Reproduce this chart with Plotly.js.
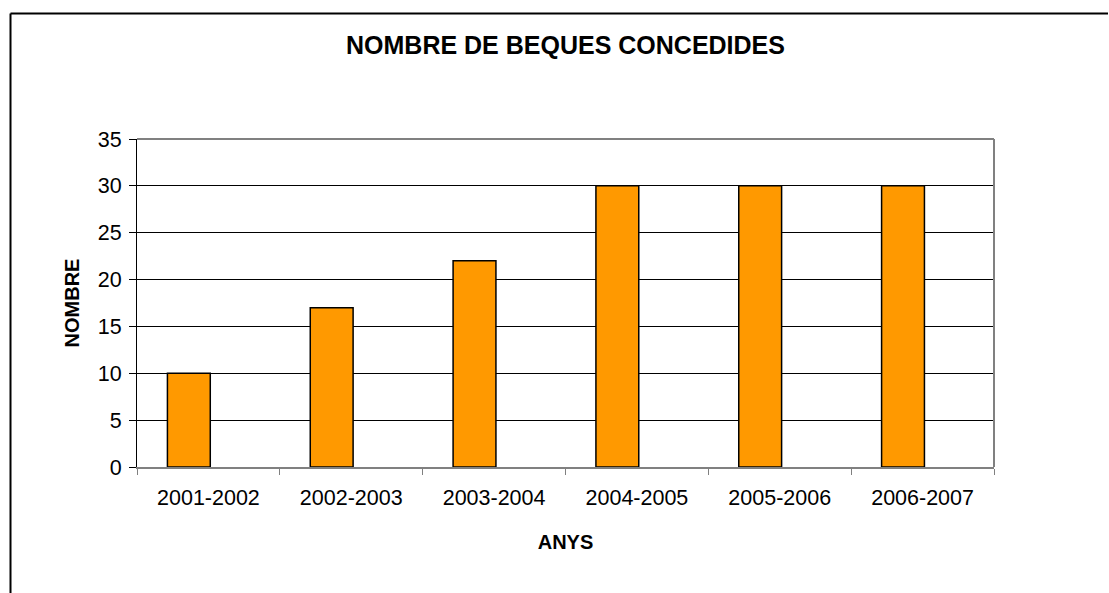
<!DOCTYPE html>
<html>
<head>
<meta charset="utf-8">
<script src="https://cdn.plot.ly/plotly-3.0.1.min.js"></script>
<style>
html,body{margin:0;padding:0;background:#fff;}
#chart{width:1109px;height:593px;}
</style>
</head>
<body>
<div id="chart"></div>
<script>
const categories = ['2001-2002','2002-2003','2003-2004','2004-2005','2005-2006','2006-2007'];
const beques = [10, 17, 22, 30, 30, 30];
const chartTitle = 'NOMBRE DE BEQUES CONCEDIDES';
const xTitle = 'ANYS';
const yTitle = 'NOMBRE';

const FONT = '"Liberation Sans", Arial, sans-serif';
const L = 137, R = 115, T = 139, B = 126, W = 1109, H = 593;
const pw = W - L - R, ph = H - T - B;
const px = v => (v - L) / pw;
const py = v => (H - B - v) / ph;

const trace = {
  type: 'bar',
  x: categories,
  y: beques,
  width: 0.3,
  offset: -0.287,
  marker: {color: '#FF9900', line: {color: '#000000', width: 1.5}},
  hoverinfo: 'x+y'
};

const layout = {
  width: W, height: H,
  margin: {l: L, r: R, t: T, b: B, pad: 0},
  paper_bgcolor: '#ffffff',
  plot_bgcolor: '#ffffff',
  showlegend: false,
  font: {family: FONT, color: '#000000'},
  title: {
    text: chartTitle,
    font: {family: FONT, size: 25, color: '#000000', weight: 'bold'},
    xref: 'paper', x: 0.5, xanchor: 'center',
    yref: 'container', y: 1 - 45/593, yanchor: 'middle'
  },
  xaxis: {
    type: 'category',
    range: [-0.5, 5.5],
    tickson: 'boundaries',
    ticks: 'outside', ticklen: 6, tickcolor: '#808080', tickwidth: 1,
    showline: true, linecolor: '#808080', linewidth: 2,
    showgrid: false, zeroline: false,
    tickfont: {family: FONT, size: 21.5, color: '#000000'},
    ticklabelstandoff: 10,
    title: {text: xTitle, font: {family: FONT, size: 20, color: '#000000', weight: 'bold'}, standoff: 26},
    automargin: false,
    fixedrange: true
  },
  yaxis: {
    range: [0, 35],
    dtick: 5,
    tick0: 0,
    ticks: 'outside', ticklen: 7, tickcolor: '#000000', tickwidth: 1,
    showline: true, linecolor: '#000000', linewidth: 1,
    showgrid: true, gridcolor: '#000000', gridwidth: 1,
    zeroline: false,
    tickfont: {family: FONT, size: 21.5, color: '#000000'},
    ticklabelstandoff: 3,
    title: {text: yTitle, font: {family: FONT, size: 20, color: '#000000', weight: 'bold'}, standoff: 12},
    automargin: false,
    fixedrange: true
  },
  shapes: [
    {type: 'line', xref: 'paper', yref: 'paper', x0: 0, x1: 1, y0: 1, y1: 1, line: {color: '#808080', width: 2}},
    {type: 'line', xref: 'paper', yref: 'paper', x0: 1, x1: 1, y0: 0, y1: 1, line: {color: '#808080', width: 2}},
    {type: 'line', xref: 'paper', yref: 'paper', x0: px(10.5), x1: px(1108), y0: py(13.5), y1: py(13.5), line: {color: '#000000', width: 2}},
    {type: 'line', xref: 'paper', yref: 'paper', x0: px(10.5), x1: px(10.5), y0: py(13.5), y1: py(600), line: {color: '#000000', width: 2}}
  ]
};

Plotly.newPlot('chart', [trace], layout, {displayModeBar: false, staticPlot: true});
</script>
</body>
</html>
